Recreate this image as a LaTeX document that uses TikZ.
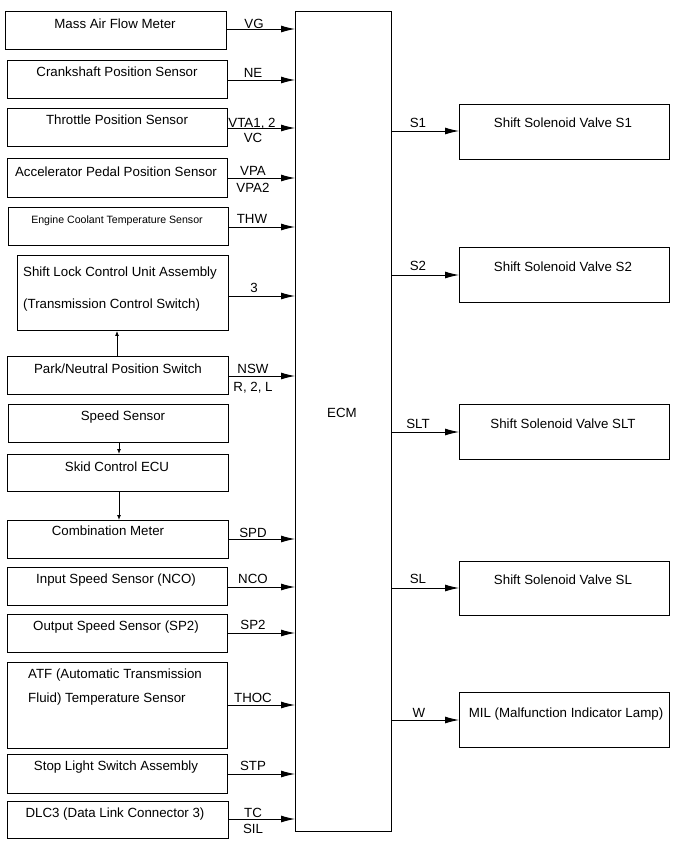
\documentclass[tikz,border=0pt]{standalone}
\usepackage{fontspec}
\setmainfont{Liberation Sans}
\usetikzlibrary{arrows.meta}
\begin{document}
\begin{tikzpicture}[x=1pt,y=-1pt,
  box/.style={draw, line width=0.9pt, anchor=north west, inner sep=0pt},
  txt/.style={anchor=base, inner sep=0pt, font=\fontsize{13.3}{16}\selectfont},
  txtl/.style={anchor=base west, inner sep=0pt, font=\fontsize{13.3}{16}\selectfont},
  stxt/.style={anchor=base, inner sep=0pt, font=\fontsize{10.6}{12}\selectfont},
  sig/.style={line width=0.9pt, -{Latex[length=14pt,width=7pt]}},
  small/.style={line width=0.9pt, -{Latex[length=5pt,width=4pt]}}]
\useasboundingbox (0,0) rectangle (691,857);

% ECM
\node[draw, line width=1.2pt, anchor=north west, inner sep=0pt, minimum width=96pt, minimum height=820pt] (ecm) at (295,11) {};
\node[txt] (ecmt) at (342,417) {ECM};

% left boxes
\node[box, minimum width=221pt, minimum height=38pt] (maf) at (5,11) {};
\node[box, minimum width=220pt, minimum height=38pt] (cks) at (7,60) {};
\node[box, minimum width=220pt, minimum height=38pt] (tps) at (7,108) {};
\node[box, minimum width=220pt, minimum height=39pt] (apps) at (7,158) {};
\node[box, minimum width=220pt, minimum height=38pt] (ect) at (8,207) {};
\node[box, minimum width=211pt, minimum height=75pt] (slu) at (17,255) {};
\node[box, minimum width=221pt, minimum height=38pt] (pnp) at (7,356) {};
\node[box, minimum width=220pt, minimum height=38pt] (spd) at (8,404) {};
\node[box, minimum width=221pt, minimum height=37pt] (skid) at (7,454) {};
\node[box, minimum width=221pt, minimum height=38pt] (comb) at (7,520) {};
\node[box, minimum width=220pt, minimum height=38pt] (isp) at (7,567) {};
\node[box, minimum width=220pt, minimum height=38pt] (osp) at (7,614) {};
\node[box, minimum width=220pt, minimum height=86pt] (atf) at (7,662) {};
\node[box, minimum width=220pt, minimum height=39pt] (stop) at (7,754) {};
\node[box, minimum width=221pt, minimum height=37pt] (dlc) at (7,801) {};

% left texts
\node[txt] (tmaf) at (115,28) {Mass Air Flow Meter};
\node[txt] (tcks) at (117,76) {Crankshaft Position Sensor};
\node[txt] (ttps) at (117,124) {Throttle Position Sensor};
\node[txt] (tapps) at (116,176) {Accelerator Pedal Position Sensor};
\node[stxt] (tect) at (117,223) {Engine Coolant Temperature Sensor};
\node[txtl] (tslu1) at (23,276) {Shift Lock Control Unit Assembly};
\node[txtl] (tslu2) at (23,308) {(Transmission Control Switch)};
\node[txt] (tpnp) at (118,373) {Park/Neutral Position Switch};
\node[txt] (tspd) at (123,420) {Speed Sensor};
\node[txt] (tskid) at (117,471) {Skid Control ECU};
\node[txt] (tcomb) at (108,535) {Combination Meter};
\node[txt] (tisp) at (116,583) {Input Speed Sensor (NCO)};
\node[txt] (tosp) at (116,630) {Output Speed Sensor (SP2)};
\node[txtl] (tatf1) at (28,678) {ATF (Automatic Transmission};
\node[txtl] (tatf2) at (28,702) {Fluid) Temperature Sensor};
\node[txt] (tstop) at (116,770) {Stop Light Switch Assembly};
\node[txt] (tdlc) at (115,817) {DLC3 (Data Link Connector 3)};

% input arrows
\draw[sig] (maf.east |- 0,29) -- (ecm.west |- 0,29);
\draw[sig] (cks.east |- 0,80) -- (ecm.west |- 0,80);
\draw[sig] (tps.east |- 0,128) -- (ecm.west |- 0,128);
\draw[sig] (apps.east |- 0,178) -- (ecm.west |- 0,178);
\draw[sig] (ect.east |- 0,227) -- (ecm.west |- 0,227);
\draw[sig] (slu.east |- 0,296) -- (ecm.west |- 0,296);
\draw[sig] (pnp.east |- 0,376) -- (ecm.west |- 0,376);
\draw[sig] (comb.east |- 0,539) -- (ecm.west |- 0,539);
\draw[sig] (isp.east |- 0,587) -- (ecm.west |- 0,587);
\draw[sig] (osp.east |- 0,633) -- (ecm.west |- 0,633);
\draw[sig] (atf.east |- 0,705) -- (ecm.west |- 0,705);
\draw[sig] (stop.east |- 0,774) -- (ecm.west |- 0,774);
\draw[sig] (dlc.east |- 0,819) -- (ecm.west |- 0,819);

% input labels
\node[txt] (lvg) at (254,28) {VG};
\node[txt] (lne) at (253,77) {NE};
\node[txt] (lvta) at (252,127) {VTA1, 2};
\node[txt] (lvc) at (253,142) {VC};
\node[txt] (lvpa) at (253,175) {VPA};
\node[txt] (lvpa2) at (253,192) {VPA2};
\node[txt] (lthw) at (252,223) {THW};
\node[txt] (l3) at (254,292) {3};
\node[txt] (lnsw) at (253,373) {NSW};
\node[txt] (lr2l) at (253,391) {R, 2, L};
\node[txt] (lspd) at (253,537) {SPD};
\node[txt] (lnco) at (253,583) {NCO};
\node[txt] (lsp2) at (253,629) {SP2};
\node[txt] (lthoc) at (253,702) {THOC};
\node[txt] (lstp) at (253,770) {STP};
\node[txt] (ltc) at (253,817) {TC};
\node[txt] (lsil) at (253,833) {SIL};

% vertical arrows between left boxes
\draw[small] (pnp.north -| 117,0) -- (slu.south -| 117,0);
\draw[small] (spd.south -| 119,0) -- (skid.north -| 119,0);
\draw[small] (skid.south -| 119,0) -- (comb.north -| 119,0);

% right boxes
\node[box, minimum width=210pt, minimum height=55pt] (s1) at (459,104) {};
\node[box, minimum width=210pt, minimum height=55pt] (s2) at (459,247) {};
\node[box, minimum width=210pt, minimum height=55pt] (slt) at (459,404) {};
\node[box, minimum width=210pt, minimum height=54pt] (sl) at (459,561) {};
\node[box, minimum width=210pt, minimum height=55pt] (mil) at (459,692) {};

\node[txt] (ts1) at (563,127) {Shift Solenoid Valve S1};
\node[txt] (ts2) at (563,271) {Shift Solenoid Valve S2};
\node[txt] (tslt) at (563,428) {Shift Solenoid Valve SLT};
\node[txt] (tsl) at (563,584) {Shift Solenoid Valve SL};
\node[txt] (tmil) at (566,717) {MIL (Malfunction Indicator Lamp)};

% output arrows
\draw[sig] (ecm.east |- 0,131) -- (s1.west |- 0,131);
\draw[sig] (ecm.east |- 0,275) -- (s2.west |- 0,275);
\draw[sig] (ecm.east |- 0,432) -- (slt.west |- 0,432);
\draw[sig] (ecm.east |- 0,588) -- (sl.west |- 0,588);
\draw[sig] (ecm.east |- 0,720) -- (mil.west |- 0,720);

\node[txt] (ls1) at (418,127) {S1};
\node[txt] (ls2) at (418,270) {S2};
\node[txt] (lslt) at (418,428) {SLT};
\node[txt] (lsl) at (418,583) {SL};
\node[txt] (lw) at (419,717) {W};
\end{tikzpicture}
\end{document}
